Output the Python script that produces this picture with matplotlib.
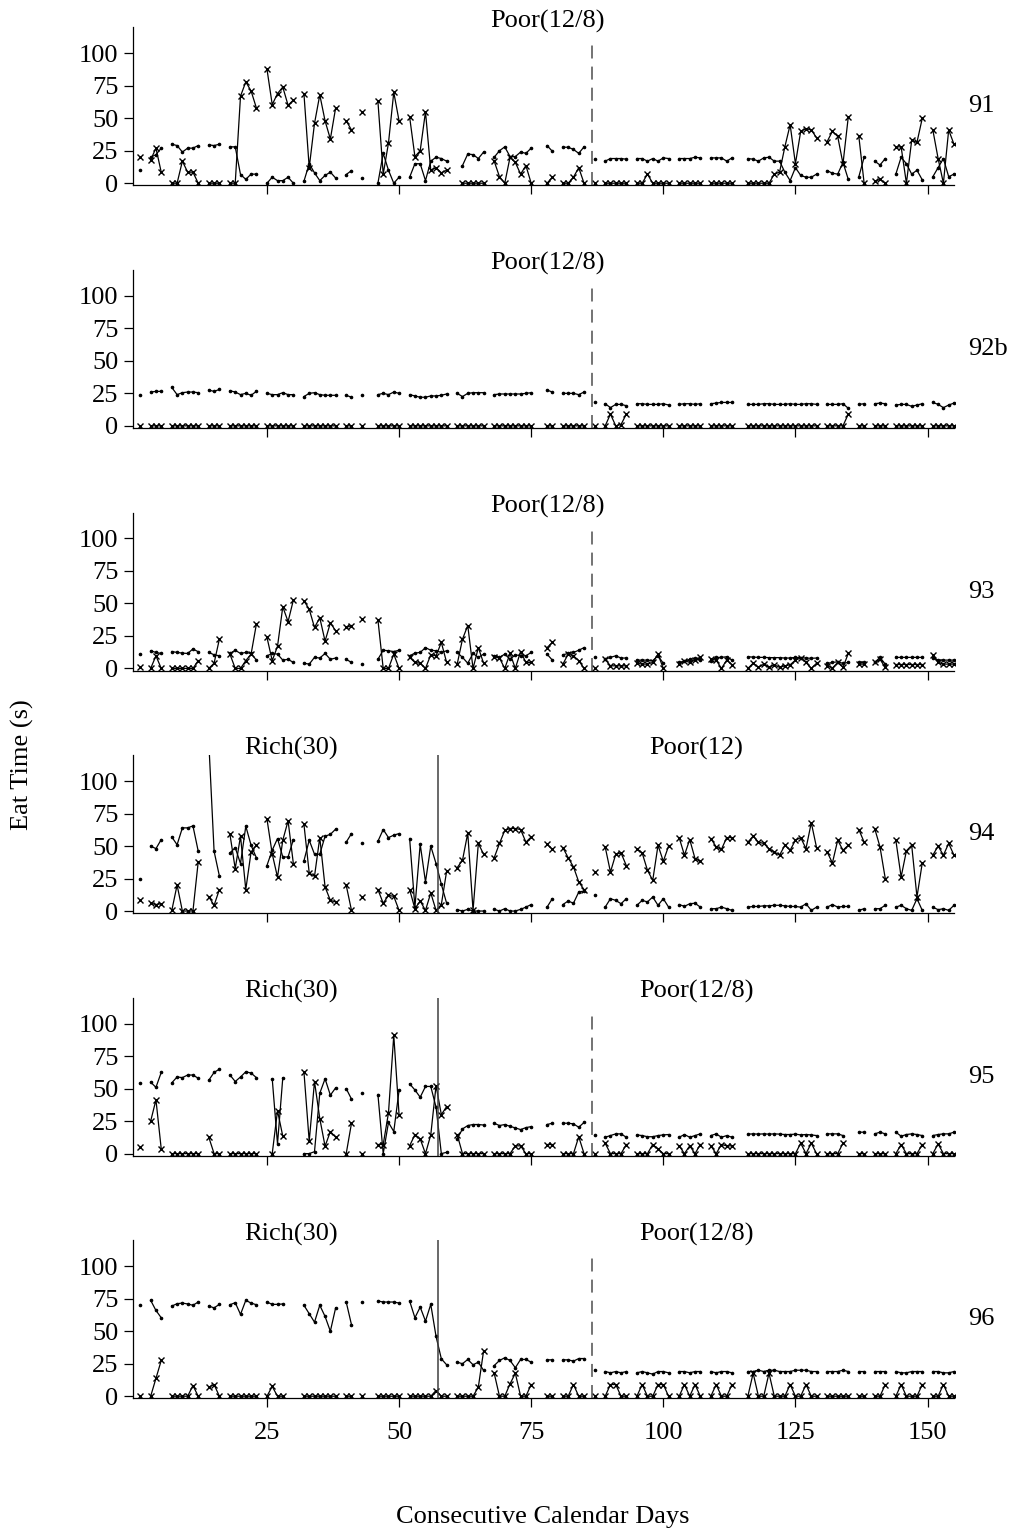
import numpy as np
import matplotlib
matplotlib.use('Agg')
import matplotlib.pyplot as plt

plt.rcParams['font.family'] = ['Liberation Serif', 'DejaVu Serif']

n_days = 155
days = np.arange(1, n_days + 1)

# data as (first day, values for consecutive days); missing days are gaps
# ---- subject 91 ----
p91_x = [(1, [20.5]), (3, [18, 27, 8.5]), (7, [0, 0, 17, 8.5, 8.5, 0]), (14, [0, 0, 0]),
         (18, [0, 0, 67, 78, 71, 58]), (25, [88, 60.5, 69, 74, 60, 64]),
         (32, [69, 12, 46, 68, 48, 34, 58]), (40, [48, 41]), (43, [55]),
         (46, [63, 7, 31, 70, 48]), (52, [51, 20.5, 25, 55, 10, 12, 8, 10]),
         (62, [0, 0, 0, 0, 0]), (68, [17, 5, 0, 20, 16, 7, 13.6, 0]), (78, [0, 4.6]),
         (81, [0, 0, 4.6, 12, 0]), (87, [0]), (89, [0, 0, 0, 0, 0]),
         (95, [0, 0, 7, 0, 0, 0, 0]), (103, [0, 0, 0, 0, 0]), (109, [0, 0, 0, 0, 0]),
         (116, [0, 0, 0, 0, 0, 7, 8.5, 28, 45, 15, 40, 42, 41, 35]),
         (131, [32, 40, 36, 15, 51]), (137, [36, 0]), (140, [1.5, 3, 0]),
         (144, [28, 28, 0, 33, 31.5, 50]), (151, [41, 19, 0, 41, 30])]
p91_dot = [(1, [10]), (3, [20, 22, 27]), (7, [30, 29, 24, 27, 27, 29]), (14, [29.5, 29, 30]),
           (18, [28, 28, 6.7, 3, 7, 7]), (25, [0, 4.6, 2, 2, 4.6, 0]),
           (32, [1.5, 15, 8, 2, 6, 8.5, 4]), (40, [6.7, 9.7]), (43, [4]),
           (46, [0, 23, 10, 0, 4.6]), (52, [4.6, 15, 15, 2, 17, 20, 19, 17]),
           (62, [13.6, 22.5, 22, 19, 24]), (68, [20, 25, 28, 20.5, 20.5, 24, 23, 27]),
           (78, [29, 24.6]), (81, [27.7, 27.7, 26, 23, 28]), (87, [19]),
           (89, [17, 19, 19, 19, 18.5]), (95, [19, 19, 17, 19, 17, 19.5, 19]),
           (103, [19, 19, 19, 20, 19.5]), (109, [19.5, 19.5, 19.5, 17, 19.5]),
           (116, [19, 18.5, 17, 19.5, 20, 17, 17, 8.5, 2, 12, 6, 4.6, 4.6, 7]),
           (131, [9.7, 7.7, 7, 16, 3]), (137, [5, 20]), (140, [17, 14, 19]),
           (144, [7, 20, 15, 7, 10, 2.6]), (151, [5, 12, 19, 5, 7])]

# ---- subject 92b ----
p92_x = [(1, [0]), (3, [0, 0, 0]), (7, [0, 0, 0, 0, 0, 0]), (14, [0, 0, 0]),
         (18, [0, 0, 0, 0, 0, 0]), (25, [0, 0, 0, 0, 0, 0]), (32, [0, 0, 0, 0, 0, 0, 0]),
         (40, [0, 0]), (43, [0]), (46, [0, 0, 0, 0, 0]), (52, [0, 0, 0, 0, 0, 0, 0, 0]),
         (61, [0, 0, 0, 0, 0, 0]), (68, [0, 0, 0, 0, 0, 0, 0, 0]), (78, [0, 0]),
         (81, [0, 0, 0, 0, 0]), (87, [0]), (89, [0, 9, 0, 1, 9]),
         (95, [0, 0, 0, 0, 0, 0, 0]), (103, [0, 0, 0, 0, 0]), (109, [0, 0, 0, 0, 0]),
         (116, [0, 0, 0, 0, 0, 0, 0, 0, 0, 0, 0, 0, 0, 0]), (131, [0, 0, 0, 0, 9]),
         (137, [0, 0]), (140, [0, 0, 0]), (144, [0, 0, 0, 0, 0, 0]), (151, [0, 0, 0, 0, 0])]
p92_dot = [(1, [24]), (3, [26, 26.5, 26.5]), (7, [29.5, 24, 25.5, 26, 26, 25.5]),
           (14, [27.5, 26.5, 28]), (18, [27, 26, 24, 25, 23.5, 26.5]),
           (25, [25, 24, 24, 25.5, 24, 24]), (32, [22.5, 25, 25.5, 24, 23.5, 23.5, 23.5]),
           (40, [23.5, 22]), (43, [23.5]), (46, [24, 25, 24, 26, 25]),
           (52, [24, 23, 22, 22, 23, 23, 23.5, 24.5]), (61, [25, 22.5, 25, 25.5, 25.5, 25.5]),
           (68, [24, 24.5, 24.5, 24.5, 24.5, 24.5, 25, 25.5]), (78, [27.5, 26]),
           (81, [25, 25, 25, 24, 26]), (87, [18.5]), (89, [17, 14, 16.5, 16.5, 15.5]),
           (95, [17, 17, 16.5, 16.5, 16.5, 17, 16]), (103, [16.5, 17, 17, 16.5, 17]),
           (109, [17, 17.5, 18, 18, 18]),
           (116, [16.5, 16.5, 16.5, 17, 17, 16.5, 16.5, 16.5, 17, 16.5, 16.5, 17, 17, 16.5]),
           (131, [16.5, 16.5, 16.5, 17, 13.5]), (137, [16.5, 17]), (140, [17, 17.5, 17]),
           (144, [16, 16.5, 16.5, 15, 16, 17]), (151, [18, 16.5, 14, 16, 17.5])]

# ---- subject 93 ----
p93_x = [(1, [0.8]), (3, [0, 9.7, 0]), (7, [0, 0, 0, 0, 0, 6]), (14, [0, 4, 22.5]),
         (18, [11, 0, 0, 6, 11, 34]), (25, [24, 6, 17, 47.4, 36, 52.6]),
         (32, [52, 45.6, 31.5, 39, 21, 35, 29]), (40, [31.5, 33]), (43, [38]),
         (46, [37.4, 0, 0, 11, 0]), (52, [8.5, 4.6, 4, 0, 10.5, 9.7, 20, 4.6]),
         (61, [3.3, 22.5, 33, 0, 16, 4]), (68, [9, 8, 0, 11.5, 0, 13, 4.6, 4.6]),
         (78, [16, 20]), (81, [3.3, 11, 9.7, 6, 0]), (87, [0]), (89, [7, 2, 2, 2, 2]),
         (95, [4, 3.3, 3.3, 4.6, 11, 0]), (103, [3.3, 6, 4.6, 6.4, 8.5]),
         (109, [7, 6.4, 0, 6.4, 2.8]),
         (116, [0, 4, 0.8, 3.3, 0.8, 2.8, 0.8, 2, 2.8, 6.4, 8, 4.6, 0, 4]),
         (131, [2, 0.3, 4.6, 0.8, 11.5]), (137, [3.3, 3.3]), (140, [4.6, 7, 0.8]),
         (144, [3, 3, 3, 3, 3, 3]), (151, [10.5, 4.6, 3.3, 3.3, 3.3])]
p93_dot = [(1, [11]), (3, [13.6, 12.3, 11.5]), (7, [13, 12.3, 11.8, 11.5, 15, 12.8]),
           (14, [12.3, 10.5, 9.7]), (18, [11.5, 14, 11.5, 12.3, 11.5, 6.4]),
           (25, [9.7, 11.5, 11, 6.4, 7, 4.6]), (32, [4, 3.3, 8.5, 8, 11.5, 7, 8]),
           (40, [7, 4.6]), (43, [3.3]), (46, [7, 14, 13.6, 13, 14]),
           (52, [9.7, 11.8, 12.3, 16, 14, 13.6, 12.3, 13.6]),
           (61, [12.3, 8.5, 4, 11.5, 8.5, 11]), (68, [9.7, 8.5, 11, 7, 10.5, 9.7, 9.7, 12.3]),
           (78, [11, 6.4]), (81, [10.5, 11.5, 12.3, 14, 16]), (87, [9]),
           (89, [7, 8.5, 9.7, 8, 8]), (95, [6.4, 6.4, 6.4, 6, 9.7, 4]),
           (103, [4.6, 5.4, 7, 7.7, 6.4]), (109, [5.9, 8.5, 8.5, 9, 6.4]),
           (116, [9, 8.7, 8.5, 8.5, 8.3, 8.3, 8.3, 8, 8, 8.5, 8.3, 8, 7.8, 8]),
           (131, [3.9, 4.6, 5.1, 3.9, 4.6]), (137, [4.6, 4.6]), (140, [4.6, 8.5, 3.3]),
           (144, [8.5, 8.5, 8.5, 8.5, 8.5, 8.5]), (151, [8, 6.4, 6.4, 6.4, 6.4])]

# ---- subject 94 ----
p94_x = [(1, [8.7]), (3, [6, 5, 5.6]), (7, [0.5, 20, 0, 0, 0, 38]), (14, [11, 4.4, 16.5]),
         (18, [59, 32.6, 57.6, 16.5, 45.5, 50.6]), (25, [71, 44, 26, 54.5, 69.4, 36.5]),
         (32, [66.8, 29.3, 26.7, 56.5, 18.5, 8.2, 7]), (40, [19.8, 0.5]), (43, [10.8]),
         (46, [16.5, 6, 12, 11.3, 0.5]), (52, [16.5, 1.8, 7.7, 0.5, 13.9, 0.5, 5, 30.6]),
         (61, [33.4, 39, 60, 0.5, 52, 43.7]), (68, [41, 52, 62, 63.5, 63.5, 62.7, 53, 57]),
         (78, [51.4, 47.5]), (81, [48.8, 41, 34, 22.4, 16.5]), (87, [30]),
         (89, [49.4, 30, 43.7, 44.7, 35]), (95, [48, 44.7, 31.4, 23.6, 50.6, 38.3, 50]),
         (103, [56.5, 43, 55, 40.4, 38.3]), (109, [55.8, 49.4, 47.5, 56.5, 56.5]),
         (116, [53, 57.6, 53, 52, 48, 45.5, 43, 50.6, 46.8, 54.5, 56.5, 48, 68, 48.8]),
         (131, [45.5, 37, 54.5, 46.8, 50.6]), (137, [62.7, 53]), (140, [63.5, 49.4, 25]),
         (144, [54.5, 26.2, 46.3, 50.6, 10.8, 37]), (151, [43, 50, 43, 52, 43])]
p94_dot = [(1, [25]), (3, [50, 48, 55]), (7, [57, 51, 64, 64, 65.5, 46]),
           (14, [130, 46, 27]), (18, [44.7, 48.8, 36.5, 65.3, 50.6, 41]),
           (25, [35, 46.8, 55.8, 41.6, 41.6, 55]), (32, [38.6, 54.5, 43.7, 43.7, 57.6, 59, 63]),
           (40, [53, 59.6]), (43, [52.4]), (46, [53.7, 62.7, 56.5, 58.4, 59.6]),
           (52, [55.8, 3, 51.4, 22.4, 50, 36.5, 20.6, 6]), (61, [1, 0, 1.3, 0, 0, 0]),
           (68, [1.3, 0, 1.8, 0, 0, 1.3, 3, 5]), (78, [3, 9.5]),
           (81, [5, 7.7, 6, 14.6, 15.4]), (87, [12]), (89, [3, 9.5, 8.2, 5.6, 9.5]),
           (95, [4.4, 8.2, 7, 10.8, 4.4, 9.5, 3]), (103, [5, 3.6, 5.6, 6, 3]),
           (109, [1.8, 1.8, 3, 1.8, 0.5]),
           (116, [3, 3.5, 3.5, 4, 4, 4.4, 4.4, 4, 3.5, 3.5, 3, 5.6, 0.5, 3]),
           (131, [3, 5, 3, 3.5, 3.5]), (137, [0.5, 1.8]), (140, [1.8, 1.8, 4.4]),
           (144, [3, 4.4, 1.8, 0.5, 9.5, 0.5]), (151, [3, 1, 1.8, 0.5, 4.4])]

# ---- subject 95 ----
p95_x = [(1, [4.9]), (3, [25, 41.4, 3.6]), (7, [0, 0, 0, 0, 0, 0]), (14, [12.6, 0, 0]),
         (18, [0, 0, 0, 0, 0, 0]), (26, [0, 33, 13.4]), (32, [63, 9.5, 55.5, 27, 5.7, 17, 12.6]),
         (40, [0, 23.4]), (43, [0]), (46, [7, 7, 31.4, 91, 30]),
         (52, [6, 14.6, 11.3, 0, 14.4, 52.4, 30, 36.2]), (61, [14.6, 0, 0, 0, 0, 0]),
         (68, [0, 0, 0, 0, 6, 6, 0, 0]), (78, [7, 7]), (81, [0, 0, 0, 13, 0]), (87, [0]),
         (89, [8, 0, 0, 0, 7]), (95, [0, 0, 0, 7, 3.6, 0, 0]), (103, [6, 0, 6, 0, 7]),
         (109, [6, 0, 7, 6, 6]), (116, [0, 0, 0, 0, 0, 0, 0, 0, 0, 0, 8, 0, 8, 0]),
         (131, [0, 0, 0, 8]), (137, [0, 0]), (140, [0, 0, 0]), (144, [0, 7, 0, 0, 0, 7]),
         (151, [0, 7.5, 0, 0, 0])]
p95_dot = [(1, [54]), (3, [55, 51, 62.5]), (7, [54.5, 59, 58.5, 60.5, 60.5, 58]),
           (14, [56.5, 62.5, 65]), (18, [60.5, 55.5, 59, 63, 62, 58.5]), (26, [57.6, 7.5, 58.4]),
           (32, [0, 0, 1.5, 46.5, 57.6, 45, 50.6]), (40, [50, 42]), (43, [46.5]),
           (46, [45.5, 0, 24, 17, 48.6]), (52, [53.7, 49, 43.4, 51.7, 51.7, 35.7, 0, 1]),
           (61, [11.3, 19, 21.6, 22.4, 22.4, 22]),
           (68, [23.4, 21.6, 22.4, 21, 19.8, 18.5, 20, 20.8]), (78, [22.4, 23.4]),
           (81, [23.4, 23.4, 22.9, 20.3, 24]), (87, [14.4]), (89, [12.6, 13.9, 15.2, 15.2, 12.6]),
           (95, [14.4, 13.9, 13, 13, 13.9, 14.4, 14.7]), (103, [12.6, 14.7, 12.6, 13.9, 15.2]),
           (109, [13.9, 15.2, 12.6, 13.9, 12.6]),
           (116, [15, 15.2, 15, 15.2, 15, 15.2, 15, 14.7, 14.7, 15, 14.4, 14.7, 14.4, 13.9]),
           (131, [15.2, 15.2, 15.2, 13.9]), (137, [16.5, 16.5]), (140, [15.2, 16.5, 15.2]),
           (144, [16.5, 13.4, 14.7, 15.2, 14.7, 13.9]), (151, [13.9, 14.7, 15.2, 15.2, 16.5])]

# ---- subject 96 ----
p96_x = [(1, [0]), (3, [0, 13.9, 27.5]), (7, [0, 0, 0, 0, 8.2, 0]), (14, [7, 9, 0]),
         (18, [0, 0, 0, 0, 0, 0]), (25, [0, 7.5, 0, 0]), (32, [0, 0, 0, 0, 0, 0, 0]),
         (40, [0, 0]), (43, [0]), (46, [0, 0, 0, 0, 0]), (52, [0, 0, 0, 0, 0, 4.4, 0, 0]),
         (61, [0, 0, 0, 0, 7, 35]), (68, [17.7, 0, 0, 9.5, 17.7, 0, 0, 9]), (78, [0, 0]),
         (81, [0, 0, 9, 0, 0]), (87, [0]), (89, [0, 9, 9, 0, 0]), (95, [0, 9, 0, 0, 9, 9, 0]),
         (103, [0, 9, 0, 9, 0]), (109, [0, 9, 0, 0, 9]),
         (116, [0, 17.7, 0, 0, 17.7, 0, 0, 0, 9, 0, 0, 9, 0, 0]), (131, [0, 0, 0, 0, 0]),
         (137, [0, 0]), (140, [0, 0, 9]), (144, [0, 9, 0, 0, 0, 9]), (151, [0, 0, 9, 0, 0])]
p96_dot = [(1, [70.4]), (3, [73.8, 66, 60.4]), (7, [69.4, 71.2, 71.7, 71, 70, 72.5]),
           (14, [69.4, 68, 70.7]), (18, [70.4, 72, 63, 73.8, 71.7, 70.4]),
           (25, [72.5, 70.7, 70.7, 71]), (32, [70, 63.5, 57, 70, 61.4, 50, 68]),
           (40, [72.5, 55]), (43, [72.5]), (46, [73.3, 72.5, 72.5, 72.5, 71.7]),
           (52, [73.3, 60.4, 68.6, 57.8, 70.7, 46, 28.8, 24.2]),
           (61, [26.2, 25, 28.3, 24.2, 26.2, 19.8]),
           (68, [23.6, 27.5, 29.6, 27.5, 21.9, 28.3, 28.3, 26.2]), (78, [28, 28]),
           (81, [28, 28, 27, 29, 29]), (87, [20]), (89, [19, 18, 19, 18, 19]),
           (95, [18, 19, 18, 17, 19, 19, 18]), (103, [19, 19, 18, 19, 19]),
           (109, [19, 18, 19, 19, 18]),
           (116, [19, 19, 20, 19, 20, 20, 19, 19, 19, 20, 20, 20, 19, 19]),
           (131, [19, 19, 19, 20, 19]), (137, [19, 19]), (140, [19, 19, 19]),
           (144, [19, 18, 18, 19, 19, 19]), (151, [19, 19, 18, 18, 19])]

subjects = ['91', '92b', '93', '94', '95', '96']
cross_series = [p91_x, p92_x, p93_x, p94_x, p95_x, p96_x]
dot_series = [p91_dot, p92_dot, p93_dot, p94_dot, p95_dot, p96_dot]
phase_labels = [[('Poor(12/8)', 78)], [('Poor(12/8)', 78)], [('Poor(12/8)', 78)],
                [('Rich(30)', 29.5), ('Poor(12)', 106.3)],
                [('Rich(30)', 29.5), ('Poor(12/8)', 106.3)],
                [('Rich(30)', 29.5), ('Poor(12/8)', 106.3)]]
rich_end = [None, None, None, 57.4, 57.4, 57.4]
poor_split = [86.5, 86.5, 86.5, None, 86.5, 86.5]


def expand(segments):
    arr = np.full(n_days, np.nan)
    for start, vals in segments:
        arr[start - 1:start - 1 + len(vals)] = vals
    return arr


W, H = 1014, 1533
fig = plt.figure(figsize=(W / 100, H / 100), dpi=100)
left_px, right_px = 132.7, 954.5
ax_h = 158

for i, subj in enumerate(subjects):
    bottom_px = 185.3 + 242.6 * i
    ax = fig.add_axes([left_px / W, 1 - bottom_px / H, (right_px - left_px) / W, ax_h / H])
    ax.plot(days, expand(cross_series[i]), color='black', lw=0.9,
            marker='x', markersize=5, markeredgewidth=1.0)
    ax.plot(days, expand(dot_series[i]), color='black', lw=0.9,
            marker='o', markersize=1.6)

    if rich_end[i] is not None:
        ax.plot([rich_end[i], rich_end[i]], [-1.6, 120], color='0.25', lw=1.1)
    if poor_split[i] is not None:
        ax.plot([poor_split[i], poor_split[i]], [-1.6, 110], color='0.3', lw=1.1,
                linestyle=(0, (8.5, 5.3)))

    for txt, xpos in phase_labels[i]:
        ax.text(xpos, 1.04, txt, transform=ax.get_xaxis_transform(),
                ha='center', va='center', fontsize=19)
    ax.text(1.016, 0.5, subj, transform=ax.transAxes, ha='left', va='center', fontsize=19)

    ax.set_xlim(-0.4, 155.1)
    ax.set_ylim(-1.6, 120)
    ax.set_yticks([0, 25, 50, 75, 100])
    ax.set_xticks([25, 50, 75, 100, 125, 150])
    ax.tick_params(direction='out', length=6.3, width=0.9, labelsize=19, pad=4)
    if i < len(subjects) - 1:
        ax.tick_params(axis='x', labelbottom=False)
    else:
        ax.tick_params(axis='x', pad=11)
    for side in ['top', 'right']:
        ax.spines[side].set_visible(False)
    for side in ['left', 'bottom']:
        ax.spines[side].set_linewidth(0.9)

fig.text(22 / W, 1 - 765 / H, 'Eat Time (s)', rotation=90, ha='center', va='center', fontsize=19)
fig.text(543 / W, 1 - 1517 / H, 'Consecutive Calendar Days', ha='center', va='center', fontsize=19)

fig.savefig('out.png', dpi=100)
